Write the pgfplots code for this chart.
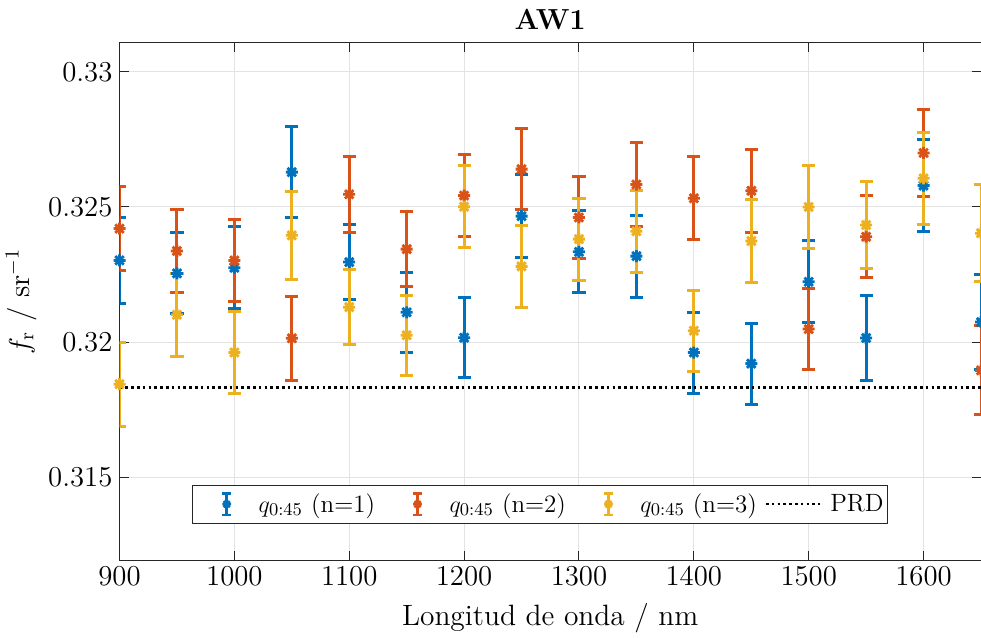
\documentclass[border=0pt]{standalone}
\usepackage{pgfplots}
\pgfplotsset{compat=1.18}
\usetikzlibrary{calc}
\definecolor{mblue}{rgb}{0,0.447,0.741}
\definecolor{mred}{rgb}{0.85,0.325,0.098}
\definecolor{myel}{rgb}{0.929,0.694,0.125}
\definecolor{axgray}{rgb}{0.15,0.15,0.15}
\pgfdeclareplotmark{mstar}{%
  \pgfpathmoveto{\pgfqpoint{\pgfplotmarksize}{0pt}}\pgfpathlineto{\pgfqpoint{-\pgfplotmarksize}{0pt}}%
  \pgfpathmoveto{\pgfqpoint{0pt}{\pgfplotmarksize}}\pgfpathlineto{\pgfqpoint{0pt}{-\pgfplotmarksize}}%
  \pgfpathmoveto{\pgfqpoint{0.707\pgfplotmarksize}{0.707\pgfplotmarksize}}\pgfpathlineto{\pgfqpoint{-0.707\pgfplotmarksize}{-0.707\pgfplotmarksize}}%
  \pgfpathmoveto{\pgfqpoint{-0.707\pgfplotmarksize}{0.707\pgfplotmarksize}}\pgfpathlineto{\pgfqpoint{0.707\pgfplotmarksize}{-0.707\pgfplotmarksize}}%
  \pgfusepathqstroke}
\begin{document}
\begin{tikzpicture}
\begin{axis}[
  name=ax,
  scale only axis,
  width=430.75pt, height=258.5pt,
  xmin=900, xmax=1650,
  ymin=0.31193, ymax=0.33107,
  xtick={900,1000,...,1600},
  ytick={0.315,0.32,0.325,0.33},
  scaled y ticks=false,
  yticklabel style={/pgf/number format/.cd, fixed, precision=3},
  xticklabel style={/pgf/number format/.cd, set thousands separator={}},
  tick label style={font=\fontsize{14}{16}\selectfont},
  grid=major,
  major grid style={gray!22, line width=0.5pt},
  axis line style={axgray, line width=0.5pt},
  tick style={axgray, line width=0.5pt},
  tick align=inside,
  major tick length=4.5pt,
  title={\textbf{AW1}},
  title style={font=\fontsize{14.5}{16}\selectfont, yshift=-3pt},
  xlabel={Longitud de onda / nm},
  ylabel={$f_\mathrm{r}$ / sr$^{-1}$},
  label style={font=\fontsize{14.7}{16}\selectfont},
  xlabel style={yshift=-2pt},
  ylabel style={yshift=-1pt},
  legend columns=4,
  legend style={at={(0.488,0.108)}, anchor=center, draw=axgray, line width=0.5pt,
    font=\fontsize{12.5}{14}\selectfont, inner xsep=0pt, inner ysep=2pt,
    /tikz/every even column/.append style={column sep=2pt}},
  legend cell align=left,
  errleg/.style={legend image code/.code={
      \path[draw=none, fill=none] (-17.25pt,0pt) rectangle (14pt,0.1pt);
      \draw[##1, mark=none, line width=1.2pt] (0pt,-5.4pt) -- (0pt,5.4pt)
        (-2.2pt,-5.4pt) -- (2.2pt,-5.4pt) (-2.2pt,5.4pt) -- (2.2pt,5.4pt);
      \draw[##1, line width=1.2pt, mark size=2.2pt] plot coordinates {(0pt,0pt)};
  }},
  prdleg/.style={legend image code/.code={
      \draw[##1] (5pt,0pt) -- (32pt,0pt);
      \path[draw=none, fill=none] (35pt,0pt) rectangle (35.1pt,0.1pt);
  }},
  ebar/.style={
    only marks, mark=mstar, mark size=3pt, line width=1.4pt,
    error bars/y dir=both, error bars/y explicit,
    error bars/error bar style={line width=1.5pt},
    error bars/error mark options={rotate=90, mark size=3.3pt, line width=1.5pt}
  },
]
\addplot[mblue, ebar, errleg] coordinates {
 (900,0.32302) +- (0,0.00158)
 (950,0.32254) +- (0,0.00150)
 (1000,0.32275) +- (0,0.00152)
 (1050,0.32629) +- (0,0.00169)
 (1100,0.32296) +- (0,0.00140)
 (1150,0.32110) +- (0,0.00148)
 (1200,0.32016) +- (0,0.00148)
 (1250,0.32466) +- (0,0.00153)
 (1300,0.32334) +- (0,0.00152)
 (1350,0.32318) +- (0,0.00152)
 (1400,0.31961) +- (0,0.00150)
 (1450,0.31920) +- (0,0.00150)
 (1500,0.32223) +- (0,0.00152)
 (1550,0.32015) +- (0,0.00157)
 (1600,0.32579) +- (0,0.00171)
 (1650,0.32074) +- (0,0.00177)
};
\addlegendentry{$q_{0:45}$ (n=1)}
\addplot[mred, ebar, errleg] coordinates {
 (900,0.32420) +- (0,0.00154)
 (950,0.32337) +- (0,0.00153)
 (1000,0.32302) +- (0,0.00152)
 (1050,0.32014) +- (0,0.00156)
 (1100,0.32547) +- (0,0.00140)
 (1150,0.32344) +- (0,0.00140)
 (1200,0.32542) +- (0,0.00152)
 (1250,0.32640) +- (0,0.00151)
 (1300,0.32461) +- (0,0.00151)
 (1350,0.32583) +- (0,0.00154)
 (1400,0.32532) +- (0,0.00153)
 (1450,0.32560) +- (0,0.00154)
 (1500,0.32048) +- (0,0.00150)
 (1550,0.32390) +- (0,0.00152)
 (1600,0.32700) +- (0,0.00162)
 (1650,0.31895) +- (0,0.00165)
};
\addlegendentry{$q_{0:45}$ (n=2)}
\addplot[myel, ebar, errleg] coordinates {
 (900,0.31844) +- (0,0.00156)
 (950,0.32101) +- (0,0.00153)
 (1000,0.31961) +- (0,0.00152)
 (1050,0.32395) +- (0,0.00162)
 (1100,0.32129) +- (0,0.00139)
 (1150,0.32025) +- (0,0.00148)
 (1200,0.32501) +- (0,0.00151)
 (1250,0.32280) +- (0,0.00152)
 (1300,0.32381) +- (0,0.00152)
 (1350,0.32410) +- (0,0.00152)
 (1400,0.32042) +- (0,0.00150)
 (1450,0.32374) +- (0,0.00152)
 (1500,0.32500) +- (0,0.00154)
 (1550,0.32433) +- (0,0.00160)
 (1600,0.32606) +- (0,0.00171)
 (1650,0.32403) +- (0,0.00180)
};
\addlegendentry{$q_{0:45}$ (n=3)}
\addplot[black, no markers, sharp plot, line width=1.2pt, dash pattern=on 1.3pt off 1.6pt, prdleg]
  coordinates {(900,0.31832) (1650,0.31832)};
\addlegendentry{PRD\hspace{3pt}}
\end{axis}
\pgfresetboundingbox
\path[use as bounding box] ($(ax.south west)+(-59.75pt,-38.5pt)$) rectangle ($(ax.north east)+(0pt,21.5pt)$);
\end{tikzpicture}
\end{document}
